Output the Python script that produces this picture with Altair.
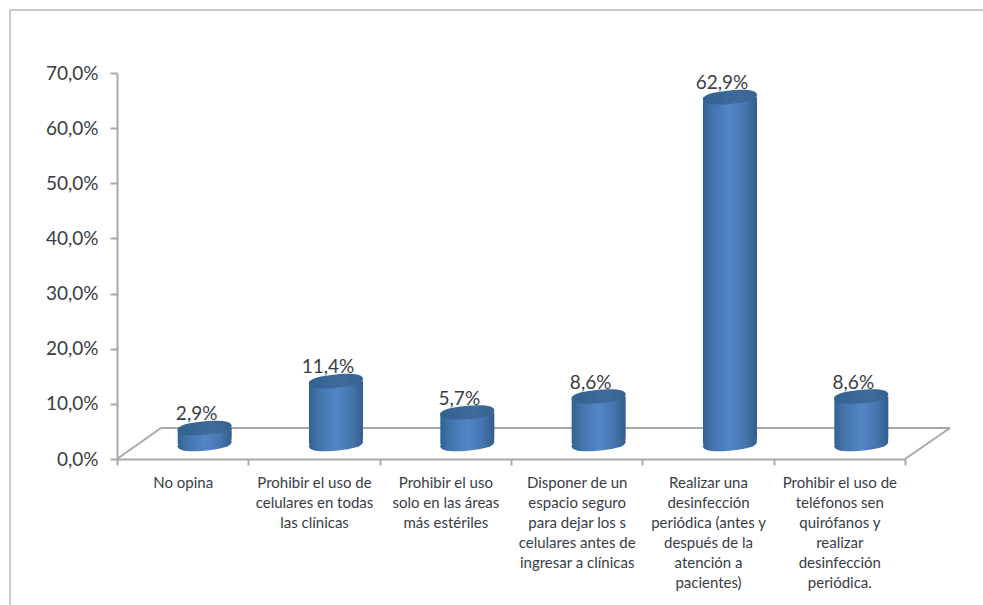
import altair as alt
import pandas as pd

# Survey answers, with line breaks as they wrap under the axis
categories = [
    "No opina",
    "Prohibir el uso de\ncelulares en todas\nlas clínicas",
    "Prohibir el uso\nsolo en las áreas\nmás estériles",
    "Disponer de un\nespacio seguro\npara dejar los s\ncelulares antes de\ningresar a clínicas",
    "Realizar una\ndesinfección\nperiódica (antes y\ndespués de la\natención a\npacientes)",
    "Prohibir el uso de\nteléfonos sen\nquirófanos y\nrealizar\ndesinfección\nperiódica.",
]
values = [2.9, 11.4, 5.7, 8.6, 62.9, 8.6]
tick_values = [0, 10, 20, 30, 40, 50, 60, 70]

FONT = "Lato"
TEXT = "#383d45"
LINE = "#a8a8a8"
FRAME = "#c9c9c9"

df = pd.DataFrame({"categoria": categories, "valor": values})
df["base"] = 0

# Pseudo-3D depth of the chart floor, in pixels
DEPTH_X, DEPTH_Y = 44, 31
W, H = 788, 386
BAR_DX, BAR_DY = 22, -15

x = alt.X(
    "categoria:N",
    sort=None,
    title=None,
    scale=alt.Scale(paddingInner=0, paddingOuter=0),
    axis=alt.Axis(
        labelAngle=0,
        labelExpr="split(datum.label, '\\n')",
        labelFont=FONT,
        labelFontSize=15,
        labelColor=TEXT,
        labelLineHeight=20,
        labelPadding=10,
        labelLimit=0,
        tickBand="extent",
        tickColor=LINE,
        tickWidth=2,
        tickSize=6,
        domainColor=LINE,
        domainWidth=2,
        grid=False,
    ),
)
y = alt.Y(
    "valor:Q",
    title=None,
    stack=None,
    scale=alt.Scale(domain=[0, 70], nice=False),
    axis=alt.Axis(
        values=tick_values,
        labelExpr="replace(format(datum.value, '.1f'), '.', ',') + '%'",
        labelFont=FONT,
        labelFontSize=19,
        labelColor=TEXT,
        labelPadding=12,
        tickColor=LINE,
        tickWidth=2,
        tickSize=7,
        domainColor=LINE,
        domainWidth=2,
        grid=False,
    ),
)

body = alt.Gradient(
    gradient="linear",
    x1=0, x2=1, y1=0, y2=0,
    stops=[
        alt.GradientStop(offset=0, color="#33628f"),
        alt.GradientStop(offset=0.18, color="#4374ab"),
        alt.GradientStop(offset=0.5, color="#5286c6"),
        alt.GradientStop(offset=0.78, color="#4576ae"),
        alt.GradientStop(offset=1, color="#335e8c"),
    ],
)
cap = alt.Gradient(
    gradient="linear",
    x1=0, x2=1, y1=0, y2=0,
    stops=[
        alt.GradientStop(offset=0, color="#34628f"),
        alt.GradientStop(offset=0.6, color="#3e6b9b"),
        alt.GradientStop(offset=1, color="#386391"),
    ],
)

# Sheared ellipse: sides stay vertical so the cap meets the cylinder walls
ELLIPSE = (
    "M-1,.08 C-1,-.085 -.65,-.195 0,-.25 C.65,-.305 1,-.245 1,-.08 "
    "C1,.085 .65,.195 0,.25 C-.65,.305 -1,.245 -1,.08 Z"
)
BAR_W = 54

# Floor outline: back edge plus the two receding sides
floor_back = alt.Chart(df.head(1)).mark_rule(color=LINE, strokeWidth=2).encode(
    x=alt.value(DEPTH_X), x2=alt.value(W + DEPTH_X + 1), y=alt.value(H - DEPTH_Y)
)
floor_left = alt.Chart(df.head(1)).mark_rule(color=LINE, strokeWidth=2).encode(
    x=alt.value(0), x2=alt.value(DEPTH_X), y=alt.value(H), y2=alt.value(H - DEPTH_Y)
)
floor_right = alt.Chart(df.head(1)).mark_rule(color=LINE, strokeWidth=2).encode(
    x=alt.value(W), x2=alt.value(W + DEPTH_X + 1), y=alt.value(H), y2=alt.value(H - DEPTH_Y)
)

# Outer frame of the chart, top and left sides only
frame_top = alt.Chart(df.head(1)).mark_rule(color=FRAME, strokeWidth=2).encode(
    x=alt.value(-107), x2=alt.value(W + 78), y=alt.value(-63)
)
frame_left = alt.Chart(df.head(1)).mark_rule(color=FRAME, strokeWidth=2).encode(
    x=alt.value(-107), y=alt.value(-63), y2=alt.value(H + 146)
)

cyl_base = alt.Chart(df).mark_point(
    shape=ELLIPSE, size=BAR_W**2, filled=True, fill=body, opacity=1, xOffset=BAR_DX, yOffset=BAR_DY
).encode(x=x, y=alt.Y("base:Q"))

cyl_body = alt.Chart(df).mark_bar(
    size=BAR_W, fill=body, xOffset=BAR_DX, yOffset=BAR_DY, y2Offset=BAR_DY,
    cornerRadiusBottomRight=6,
).encode(x=x, y=y, y2="base:Q")

cyl_top = alt.Chart(df).mark_point(
    shape=ELLIPSE, size=BAR_W**2, filled=True, fill=cap, opacity=1, xOffset=BAR_DX, yOffset=BAR_DY
).encode(x=x, y=y)

labels = alt.Chart(df).transform_calculate(
    etiqueta="replace(format(datum.valor, '.1f'), '.', ',') + '%'"
).mark_text(
    font=FONT, fontSize=19, color=TEXT, baseline="middle", xOffset=BAR_DX - 8, yOffset=BAR_DY - 14
).encode(x=x, y=y, text="etiqueta:N")

chart = alt.layer(
    frame_top, frame_left, floor_back, floor_left, floor_right,
    cyl_base, cyl_body, cyl_top, labels,
).properties(
    width=W,
    height=H,
    autosize=alt.AutoSizeParams(type="none"),
    padding={"left": 117, "top": 73, "right": 78, "bottom": 146},
    background="white",
).configure_view(stroke=None)

chart.save("out.html", embed_options={"renderer": "svg", "actions": False})
